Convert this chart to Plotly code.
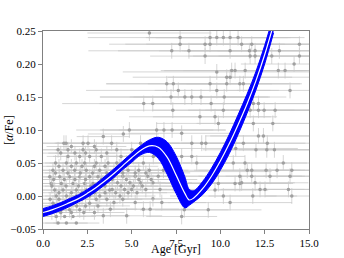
import plotly.graph_objects as go

# ---- Observed stars: age [Gyr], [alpha/Fe], errors ----
star_age = [
    6.00, 7.73, 9.42, 9.80, 10.17, 10.55, 11.00, 7.73, 9.14, 9.42, 11.20, 11.77, 14.46,
    7.26, 8.23, 10.55, 11.64, 11.96, 13.33, 9.14, 11.68, 11.96, 12.90, 14.46, 14.16,
    9.80, 10.64, 10.83, 11.40, 13.27, 13.65, 10.36, 10.55, 6.98, 7.35, 9.42, 10.36,
    11.10, 11.30, 7.63, 9.80, 13.93, 7.22, 8.00, 8.39, 8.91, 10.22, 5.68, 6.19, 9.48,
    11.86, 12.15, 7.32, 10.17, 11.68, 12.15, 12.47, 13.09, 8.85, 9.70, 9.89, 11.86,
    12.96, 4.87, 6.41, 6.82, 7.28,
    12.15, 12.43, 11.30, 12.65, 12.01, 12.62, 13.05, 11.39, 13.55, 11.52, 11.77, 12.58,
    13.20, 14.03, 11.10, 11.77, 12.80, 13.93, 11.20, 11.96, 12.24, 12.52, 13.84, 11.83,
    14.03, 7.82, 8.39, 8.95, 9.18, 10.87, 7.82, 8.39, 8.67, 10.73, 9.89, 9.89, 10.83,
    11.10, 9.70, 10.17, 10.55, 7.97, 9.32, 7.82,
    3.87, 4.53, 4.16, 4.16, 4.72, 5.66, 6.22, 6.79, 4.72, 5.66, 6.04, 6.70, 6.20, 4.34,
    5.00, 7.35, 4.00, 4.50, 5.20, 5.90, 6.50, 4.20, 4.90, 5.50, 6.20, 3.90, 4.60, 5.80,
    6.60, 4.00, 4.80, 5.40, 6.00, 4.40, 5.10, 5.00, 5.50, 3.40, 5.20, 4.00, 3.80, 3.40,
    1.18, 1.30, 2.26, 2.54,
    0.85, 1.41, 2.26, 3.00,
    1.41, 2.07, 2.63, 3.29,
    0.71, 1.32, 1.88, 2.35, 3.00, 3.67,
    0.56, 1.13, 1.79, 2.44, 3.20,
    0.38, 0.94, 1.50, 2.07, 2.63, 3.10, 3.57,
    0.47, 1.03, 1.69, 2.35, 2.82, 3.38,
    0.66, 1.13, 1.88, 2.44, 3.00, 3.76,
    0.75, 1.32, 1.88, 2.63, 3.20,
    0.56, 1.13, 1.69, 2.63,
    0.66, 1.03, 1.50, 2.07,
    0.75, 1.22, 1.69,
    0.85, 1.32, 1.88,
]
star_afe = [
    0.247, 0.240, 0.240, 0.240, 0.240, 0.240, 0.240, 0.230, 0.230, 0.230, 0.230, 0.230, 0.230,
    0.220, 0.220, 0.220, 0.220, 0.220, 0.220, 0.212, 0.212, 0.212, 0.212, 0.212, 0.200,
    0.188, 0.190, 0.190, 0.190, 0.190, 0.190, 0.180, 0.180, 0.170, 0.170, 0.170, 0.170,
    0.170, 0.170, 0.160, 0.160, 0.160, 0.150, 0.150, 0.150, 0.150, 0.150, 0.140, 0.140, 0.140,
    0.140, 0.140, 0.130, 0.130, 0.130, 0.130, 0.130, 0.130, 0.120, 0.120, 0.110, 0.110,
    0.110, 0.100, 0.100, 0.100, 0.100,
    0.091, 0.091, 0.080, 0.080, 0.070, 0.070, 0.070, 0.050, 0.050, 0.039, 0.039, 0.039,
    0.039, 0.039, 0.030, 0.030, 0.030, 0.030, 0.020, 0.020, 0.010, 0.010, 0.010, 0.000,
    0.000, 0.095, 0.080, 0.080, 0.080, 0.072, 0.060, 0.060, 0.050, 0.050, 0.037, 0.019, 0.019,
    0.019, 0.009, 0.000, -0.010, -0.021, -0.021, -0.031,
    0.080, 0.094, 0.070, 0.050, 0.050, 0.050, 0.060, 0.039, -0.030, -0.020, -0.020, -0.010, -0.004, 0.000,
    0.010, 0.019, 0.030, 0.030, 0.030, 0.030, 0.030, 0.020, 0.020, 0.020, 0.020, 0.010, 0.010, 0.010,
    0.010, 0.039, 0.039, 0.039, 0.039, 0.060, 0.060, 0.070, 0.080, 0.090, -0.010, -0.010, -0.020, -0.030,
    0.080, 0.080, 0.080, 0.080,
    0.070, 0.070, 0.070, 0.070,
    0.060, 0.060, 0.060, 0.060,
    0.050, 0.050, 0.050, 0.050, 0.050, 0.050,
    0.039, 0.039, 0.039, 0.039, 0.039,
    0.029, 0.029, 0.029, 0.029, 0.029, 0.029, 0.029,
    0.019, 0.019, 0.019, 0.019, 0.019, 0.019,
    0.009, 0.009, 0.009, 0.009, 0.009, 0.009,
    0.000, 0.000, 0.000, 0.000, 0.000,
    -0.011, -0.011, -0.011, -0.011,
    -0.021, -0.021, -0.021, -0.021,
    -0.031, -0.031, -0.031,
    -0.041, -0.041, -0.041,
]
star_age_err = [
    3.5, 5.2, 3.5, 4.0, 3.8, 4.2, 3.5, 4.0, 4.5, 3.6, 4.0, 3.5, 3.0,
    4.7, 4.0, 4.0, 3.8, 4.0, 3.5, 3.1, 3.5, 3.5, 3.0, 2.5, 3.0,
    5.3, 4.0, 4.0, 3.5, 3.0, 3.0, 5.3, 3.5, 3.4, 3.8, 3.5, 3.5,
    3.5, 3.2, 5.2, 3.5, 3.0, 4.0, 4.8, 3.5, 3.8, 3.5, 4.6, 3.0, 3.5,
    3.0, 3.0, 3.2, 4.0, 3.5, 3.0, 3.0, 2.5, 4.0, 3.5, 3.5, 3.2,
    3.0, 3.0, 3.2, 3.5, 3.0,
    3.0, 3.0, 3.5, 2.5, 3.0, 2.5, 2.0, 3.5, 2.0, 3.0, 3.0, 2.5,
    2.0, 1.5, 3.5, 3.0, 2.5, 1.5, 3.0, 3.0, 2.5, 2.5, 1.5, 2.5,
    1.5, 3.0, 3.0, 3.0, 3.5, 3.5, 2.5, 3.0, 3.0, 3.0, 3.0, 3.0, 3.0,
    3.0, 3.0, 3.0, 3.5, 2.5, 3.0, 2.0,
    1.5, 2.0, 1.5, 1.5, 2.0, 2.0, 2.5, 2.5, 2.0, 2.0, 2.5, 2.5, 2.0, 2.0,
    2.0, 2.5, 1.8, 2.0, 2.0, 2.2, 2.5, 2.0, 2.0, 2.0, 2.2, 1.6, 2.0, 2.0,
    2.5, 1.8, 2.0, 2.0, 2.2, 1.8, 2.0, 2.0, 2.2, 1.5, 2.0, 1.6, 1.5, 1.5,
    1.2, 1.4, 1.6, 1.8,
    1.0, 1.4, 1.6, 1.8,
    1.2, 1.5, 1.7, 1.8,
    1.0, 1.2, 1.5, 1.6, 1.8, 1.9,
    1.0, 1.2, 1.5, 1.6, 1.8,
    0.9, 1.1, 1.3, 1.5, 1.6, 1.8, 1.9,
    0.9, 1.1, 1.3, 1.5, 1.7, 1.8,
    1.0, 1.2, 1.4, 1.6, 1.8, 2.0,
    1.0, 1.2, 1.4, 1.6, 1.8,
    1.0, 1.2, 1.4, 1.6,
    1.0, 1.1, 1.3, 1.5,
    1.0, 1.2, 1.3,
    1.0, 1.2, 1.3,
]
star_afe_err = [0.012] * 209

# ---- Additional young stars in the dense cloud ----
cloud_age = [
    0.9, 1.6, 2.2, 2.9, 3.5, 4.3,
    0.7, 1.4, 2.1, 2.8, 3.6, 4.5, 5.2, 5.8,
    0.6, 1.2, 1.8, 2.4, 3.3, 3.9, 4.7, 5.4, 6.1,
    0.5, 1.3, 2.0, 2.7, 3.5, 4.4, 5.1, 5.6,
    0.9, 1.6, 2.2, 2.9, 3.5, 4.1, 4.8, 5.3,
    0.4, 0.9, 1.5, 2.2, 3.0, 3.6, 4.5,
    0.8, 1.3, 1.9, 2.4, 3.1,
    0.5, 1.0, 1.6, 2.3, 2.9,
    1.0, 1.8, 2.4, 3.6,
    1.6, 2.9,
]
cloud_afe = [
    0.045, 0.045, 0.045, 0.045, 0.045, 0.045,
    0.035, 0.035, 0.035, 0.035, 0.035, 0.035, 0.035, 0.035,
    0.025, 0.025, 0.025, 0.025, 0.025, 0.025, 0.025, 0.025, 0.025,
    0.015, 0.015, 0.015, 0.015, 0.015, 0.015, 0.015, 0.015,
    0.005, 0.005, 0.005, 0.005, 0.005, 0.005, 0.005, 0.005,
    -0.005, -0.005, -0.005, -0.005, -0.005, -0.005, -0.005,
    -0.015, -0.015, -0.015, -0.015, -0.015,
    -0.025, -0.025, -0.025, -0.025, -0.025,
    0.065, 0.065, 0.065, 0.065,
    0.075, 0.075,
]
cloud_age_err = [
    1.1, 1.4, 1.6, 1.8, 2.0, 2.2,
    1.0, 1.3, 1.5, 1.7, 2.0, 2.2, 2.4, 2.5,
    0.9, 1.2, 1.4, 1.6, 1.9, 2.0, 2.2, 2.4, 2.6,
    0.9, 1.2, 1.4, 1.7, 1.9, 2.1, 2.3, 2.5,
    1.0, 1.3, 1.5, 1.7, 1.9, 2.0, 2.2, 2.4,
    0.8, 1.0, 1.3, 1.5, 1.8, 2.0, 2.2,
    1.0, 1.2, 1.4, 1.6, 1.8,
    0.9, 1.1, 1.3, 1.5, 1.7,
    1.2, 1.5, 1.7, 2.0,
    1.4, 1.8,
]
cloud_afe_err = [0.011] * 62

# ---- Model band: age grid, median, lower and upper envelope ----
model_age = [0, 0.5, 1, 1.5, 2, 2.5, 3, 3.5, 4, 4.5, 5, 5.5, 6, 6.5, 7, 7.5, 8, 8.25,
             8.5, 9, 9.5, 10, 10.5, 11, 11.5, 12, 12.5, 13]
model_med = [-0.025, -0.021, -0.016, -0.010, -0.004, 0.004, 0.013, 0.023, 0.034, 0.046,
             0.058, 0.069, 0.076, 0.074, 0.059, 0.032, 0.004, -0.006, -0.003, 0.011,
             0.030, 0.053, 0.079, 0.108, 0.139, 0.174, 0.214, 0.260]
model_lo = [-0.031, -0.027, -0.022, -0.016, -0.009, -0.002, 0.007, 0.017, 0.028, 0.040,
            0.051, 0.062, 0.066, 0.057, 0.033, 0.004, -0.018, -0.014, -0.009, 0.002,
            0.018, 0.039, 0.064, 0.093, 0.125, 0.160, 0.200, 0.247]
model_hi = [-0.019, -0.015, -0.010, -0.004, 0.002, 0.010, 0.019, 0.030, 0.041, 0.053,
            0.065, 0.076, 0.085, 0.089, 0.082, 0.061, 0.029, 0.010, 0.008, 0.022,
            0.042, 0.066, 0.093, 0.123, 0.154, 0.188, 0.228, 0.274]

x_ticks = [0.0, 2.5, 5.0, 7.5, 10.0, 12.5, 15.0]
y_ticks = [-0.05, 0.00, 0.05, 0.10, 0.15, 0.20, 0.25]

serif = "Liberation Serif"
fig = go.Figure()
for xs, ys, ex, ey in [(star_age, star_afe, star_age_err, star_afe_err),
                       (cloud_age, cloud_afe, cloud_age_err, cloud_afe_err)]:
    fig.add_trace(go.Scatter(
        x=xs, y=ys, mode="markers",
        marker=dict(color="#a0a0a0", size=3.5),
        error_x=dict(type="data", array=ex, color="rgba(200,200,200,0.75)",
                     thickness=1, width=0),
        error_y=dict(type="data", array=ey, color="rgba(200,200,200,0.75)",
                     thickness=1, width=0),
        showlegend=False, hoverinfo="skip"))
fig.add_trace(go.Scatter(x=model_age, y=model_lo, mode="lines",
                         line=dict(color="#0000ff", width=1, shape="spline"),
                         showlegend=False))
fig.add_trace(go.Scatter(x=model_age, y=model_hi, mode="lines", fill="tonexty",
                         fillcolor="#0000ff",
                         line=dict(color="#0000ff", width=1, shape="spline"),
                         showlegend=False))
fig.add_trace(go.Scatter(x=model_age, y=model_med, mode="lines",
                         line=dict(color="white", width=1.2, shape="spline"),
                         showlegend=False))

axis_common = dict(showgrid=False, zeroline=False, showline=True, mirror=True,
                   linecolor="#808080", linewidth=1, ticks="outside", ticklen=4,
                   tickcolor="#808080", automargin=False,
                   tickfont=dict(family=serif, size=11, color="black"))
fig.update_xaxes(range=[0, 15], tickvals=x_ticks, tickformat=".1f", **axis_common)
fig.update_yaxes(range=[-0.05, 0.25], tickvals=y_ticks, tickformat=".2f",
                 **axis_common)
fig.add_annotation(text="[<i>α</i>/Fe]", xref="paper", yref="paper",
                   x=-0.128, y=0.5, xanchor="center", yanchor="middle",
                   textangle=-90, showarrow=False,
                   font=dict(family=serif, size=12, color="black"))
fig.add_annotation(text="Age [Gyr]", xref="paper", yref="paper",
                   x=0.5, y=-0.14, xanchor="center", yanchor="bottom",
                   showarrow=False, borderpad=0,
                   font=dict(family=serif, size=12, color="black"))
fig.update_layout(width=344, height=258, margin=dict(l=43, r=35, t=31, b=29),
                  plot_bgcolor="white", paper_bgcolor="white")
fig.write_html("out.html", config={"displayModeBar": False},
               post_script="document.body.style.margin='0';document.body.style.overflow='hidden';")
